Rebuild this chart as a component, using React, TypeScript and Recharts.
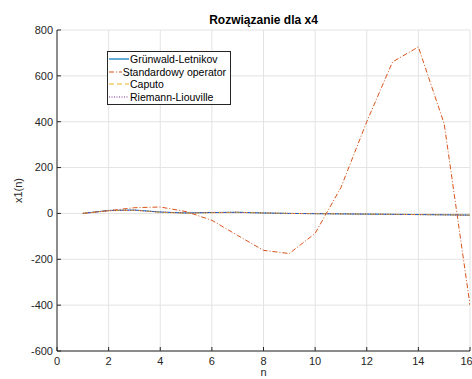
import { CartesianGrid, Legend, Line, LineChart, XAxis, YAxis } from "recharts";

const n = [1, 2, 3, 4, 5, 6, 7, 8, 9, 10, 11, 12, 13, 14, 15, 16];
const grunwald = [0, 13, 15, 6, 2, 4, 5, 2, 0, -1, -2, -3, -4, -5, -6, -7];
const standardowy = [0, 12, 25, 28, 8, -30, -96, -161, -175, -87, 113, 400, 661, 726, 391, -400];
const caputo = [0, 12, 14, 5, 1, 3, 5, 2, 0, -1, -2, -3, -4, -5, -6, -7];
const riemann = [0, 12, 14, 6, 2, 4, 5, 2, 0, -1, -2, -3, -4, -5, -6, -8];

const xTicks = [0, 2, 4, 6, 8, 10, 12, 14, 16];
const yTicks = [-600, -400, -200, 0, 200, 400, 600, 800];

const data = n.map((v, i) => ({
  n: v,
  gl: grunwald[i],
  std: standardowy[i],
  cap: caputo[i],
  rl: riemann[i]
}));

const series = [
  { key: "gl", name: "Grünwald-Letnikov", color: "#0072BD", dash: undefined },
  { key: "std", name: "Standardowy operator", color: "#D95319", dash: "5 2 1 2" },
  { key: "cap", name: "Caputo", color: "#EDB120", dash: "5 3" },
  { key: "rl", name: "Riemann-Liouville", color: "#7E2F8E", dash: "1 1.5" }
];

const font = "'Liberation Sans', Arial, sans-serif";
const axisColor = "#262626";
const tickStyle = { fontSize: 11, fill: axisColor, fontFamily: font };

function LegendBox() {
  return (
    <div
      style={{
        border: `1px solid ${axisColor}`,
        background: "#fff",
        padding: "1px 4px 1px 1px",
        fontFamily: font,
        fontSize: 10.5,
        color: "#000",
        lineHeight: "12.6px",
        width: 117,
        whiteSpace: "nowrap"
      }}
    >
      {series.map((s) => (
        <div key={s.key} style={{ display: "flex", alignItems: "center" }}>
          <svg width={20} height={6} style={{ marginRight: 1 }}>
            <line x1={0} y1={3} x2={20} y2={3} stroke={s.color} strokeWidth={1.2} strokeDasharray={s.dash} />
          </svg>
          <span>{s.name}</span>
        </div>
      ))}
    </div>
  );
}

export default function App() {
  return (
    <div style={{ position: "absolute", left: 0, top: 0, width: 472, height: 379, background: "#fff" }}>
      <div
        style={{
          position: "absolute",
          left: 57,
          width: 413,
          top: 13,
          textAlign: "center",
          fontFamily: font,
          fontWeight: "bold",
          fontSize: 12,
          color: "#000"
        }}
      >
        Rozwiązanie dla x4
      </div>
      <LineChart width={472} height={379} data={data} margin={{ top: 30, right: 2, left: 0, bottom: 0 }}>
        <CartesianGrid stroke="#e3e3e3" horizontalValues={yTicks} verticalValues={xTicks} />
        <XAxis
          dataKey="n"
          type="number"
          domain={[0, 16]}
          ticks={xTicks}
          height={28}
          stroke={axisColor}
          tick={tickStyle}
          tickSize={-4}
          tickMargin={10}
          allowDataOverflow
          label={{ value: "n", position: "insideBottom", offset: 3, style: { ...tickStyle } }}
        />
        <XAxis xAxisId="top" orientation="top" dataKey="n" type="number" domain={[0, 16]} ticks={xTicks} height={0} stroke={axisColor} tick={false} tickSize={-4} />
        <YAxis
          type="number"
          domain={[-600, 800]}
          ticks={yTicks}
          width={57}
          stroke={axisColor}
          tick={tickStyle}
          tickSize={-4}
          tickMargin={8}
          interval={0}
          label={{ value: "x1(n)", angle: -90, position: "insideLeft", offset: 18, style: { ...tickStyle, textAnchor: "middle" } }}
        />
        <YAxis yAxisId="right" orientation="right" type="number" domain={[-600, 800]} ticks={yTicks} width={0} stroke={axisColor} tick={false} tickSize={-4} />
        <Legend
          content={<LegendBox />}
          layout="horizontal"
          align="center"
          verticalAlign="middle"
          wrapperStyle={{ position: "absolute", left: 107, top: 51, width: "auto" }}
        />
        {series.map((s) => (
          <Line
            key={s.key}
            type="linear"
            dataKey={s.key}
            name={s.name}
            stroke={s.color}
            strokeWidth={1}
            strokeDasharray={s.dash}
            dot={false}
            isAnimationActive={false}
          />
        ))}
      </LineChart>
    </div>
  );
}
